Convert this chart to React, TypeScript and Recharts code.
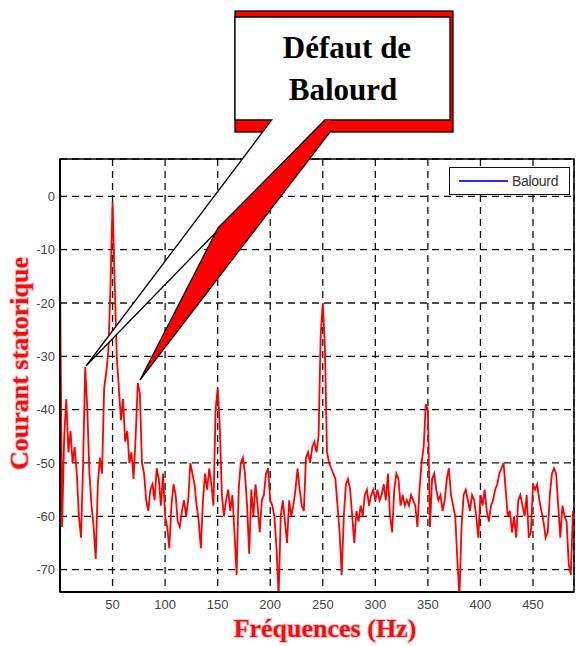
import React from "react";
import {
  LineChart,
  Line,
  XAxis,
  YAxis,
  CartesianGrid,
  Legend,
  ReferenceArea,
} from "recharts";

// stator current spectrum, one sample every 2 Hz (dB)
const FREQ_STEP = 2;

const spectrum0to98 = [
  -14, -62, -45, -38, -48, -44, -50, -47, -52, -60,
  -64, -50, -32, -40, -52, -58, -62, -68, -54, -49,
  -52, -36, -33, -29, -17, -1, -16, -30, -36, -42,
  -38, -46, -44, -50, -48, -53, -45, -35, -37, -50,
  -52, -57, -59, -55, -54, -57, -51, -53, -58, -52,
];
const spectrum100to198 = [
  -60, -62, -66, -58, -54, -56, -61, -62, -59, -57,
  -60, -57, -50, -52, -54, -58, -61, -66, -57, -52,
  -55, -51, -54, -58, -40, -36, -43, -56, -60, -57,
  -55, -59, -56, -63, -71, -55, -50, -49, -52, -58,
  -67, -55, -60, -54, -58, -63, -57, -56, -52, -51,
];
const spectrum200to298 = [
  -57, -58, -60, -66, -75, -60, -57, -61, -65, -57,
  -60, -58, -55, -51, -55, -58, -59, -49, -48, -50,
  -47, -46, -48, -45, -26, -20, -28, -48, -50, -51,
  -52, -53, -58, -63, -71, -60, -54, -53, -55, -60,
  -65, -59, -61, -58, -60, -56, -55, -58, -56, -55,
];
const spectrum300to398 = [
  -57, -55, -57, -56, -54, -57, -52, -60, -63, -55,
  -52, -53, -58, -56, -58, -57, -58, -56, -57, -58,
  -62, -55, -50, -47, -39, -40, -62, -53, -52, -55,
  -57, -56, -59, -57, -53, -51, -56, -58, -60, -68,
  -75, -62, -56, -55, -57, -59, -56, -57, -60, -64,
];
const spectrum400to488 = [
  -56, -58, -55, -59, -61, -58, -57, -55, -54, -52,
  -51, -50, -55, -60, -59, -63, -60, -64, -57, -56,
  -58, -60, -56, -64, -63, -54, -55, -54, -57, -59,
  -61, -64, -63, -56, -52, -51, -52, -58, -64, -58,
  -60, -61, -69, -71, -59,
];

const xTicks = [50, 100, 150, 200, 250, 300, 350, 400, 450];
const yTicks = [0, -10, -20, -30, -40, -50, -60, -70];
const xDomain = [0, 489];
const yDomain = [-74.2, 7];

const data = [
  ...spectrum0to98,
  ...spectrum100to198,
  ...spectrum200to298,
  ...spectrum300to398,
  ...spectrum400to488,
].map((v, i) => ({ f: i * FREQ_STEP, balourd: v }));

const titleStyle = {
  fill: "#f00f0f",
  stroke: "#ffc4c4",
  strokeWidth: 2,
  paintOrder: "stroke",
  fontFamily: "'Liberation Serif', 'Times New Roman', serif",
  fontWeight: 700,
  fontSize: 26,
} as React.CSSProperties;

function XTitle(props: any) {
  const vb = props.viewBox || { x: 60, y: 592, width: 514, height: 30 };
  return (
    <text
      x={vb.x + vb.width / 2 + 8}
      y={vb.y + 45}
      textAnchor="middle"
      style={titleStyle}
    >
      Fréquences (Hz)
    </text>
  );
}

function YTitle(props: any) {
  const vb = props.viewBox || { x: 0, y: 159, width: 60, height: 433 };
  const cx = vb.x + 28;
  const cy = vb.y + vb.height / 2 - 12;
  return (
    <text
      x={cx}
      y={cy}
      transform={`rotate(-90 ${cx} ${cy})`}
      textAnchor="middle"
      style={titleStyle}
    >
      Courant statorique
    </text>
  );
}

function BalourdLegend() {
  return (
    <div
      style={{
        width: 121,
        height: 28,
        border: "1.5px solid #111",
        background: "#fff",
        display: "flex",
        alignItems: "center",
        boxSizing: "border-box",
      }}
    >
      <svg width={62} height={20}>
        <line x1={9} y1={10} x2={58} y2={10} stroke="#2a2aff" strokeWidth={2} />
      </svg>
      <span
        style={{
          fontFamily: "'Liberation Sans', Arial, sans-serif",
          fontSize: 14,
          color: "#333",
          letterSpacing: -0.3,
        }}
      >
        Balourd
      </span>
    </div>
  );
}

// the "Défaut de Balourd" callout drawn over the plot
function Callout() {
  return (
    <svg
      width={576}
      height={646}
      style={{ position: "absolute", left: 0, top: 0, pointerEvents: "none" }}
    >
      <rect x={235} y={11} width={218} height={121} fill="#ff0000" stroke="#000" strokeWidth={1.3} />
      <polygon
        points="235,17 450,17 450,120 325,120 86,366 271.7,120 235,120"
        fill="#fff"
        stroke="#000"
        strokeWidth={1.3}
        strokeLinejoin="miter"
      />
      <polygon points="325,120 331,120 330,132 140,380 218,228" fill="#ff0000" />
      <polyline
        points="325,120 218,228 140,380 330,132"
        fill="none"
        stroke="#000"
        strokeWidth={1.3}
      />
      <g
        fontFamily="'Liberation Serif', 'Times New Roman', serif"
        fontWeight={700}
        fontSize={31}
        fill="#000"
        textAnchor="middle"
      >
        <text x={347} y={58}>Défaut de</text>
        <text x={343} y={100}>Balourd</text>
      </g>
    </svg>
  );
}

export default function App() {
  return (
    <div
      style={{
        position: "absolute",
        left: 0,
        top: 0,
        width: 576,
        height: 646,
        background: "#fff",
      }}
    >
      <LineChart
        width={576}
        height={646}
        data={data}
        margin={{ top: 159, right: 2, bottom: 24, left: 0 }}
      >
        <CartesianGrid
          stroke="#111"
          strokeWidth={1.3}
          strokeDasharray="7 5"
        />
        <XAxis
          dataKey="f"
          type="number"
          domain={xDomain}
          ticks={xTicks}
          allowDataOverflow
          height={30}
          axisLine={{ stroke: "#000", strokeWidth: 2 }}
          tickLine={false}
          tickSize={4}
          tickMargin={4}
          tick={{ fill: "#444", fontSize: 13, fontFamily: "'Liberation Sans', Arial, sans-serif" }}
          label={<XTitle />}
        />
        <YAxis
          type="number"
          domain={yDomain}
          ticks={yTicks}
          allowDataOverflow
          width={60}
          axisLine={{ stroke: "#000", strokeWidth: 2 }}
          tickLine={false}
          tickSize={3}
          tickMargin={2}
          tick={{ fill: "#444", fontSize: 13, fontFamily: "'Liberation Sans', Arial, sans-serif" }}
          label={<YTitle />}
        />
        <ReferenceArea
          x1={xDomain[0]}
          x2={xDomain[1]}
          y1={yDomain[0]}
          y2={yDomain[1]}
          fill="none"
          stroke="#000"
          strokeWidth={1.5}
          ifOverflow="visible"
        />
        <Line
          type="linear"
          dataKey="balourd"
          name="Balourd"
          stroke="#ff0000"
          strokeWidth={1.8}
          dot={false}
          isAnimationActive={false}
        />
        <Legend
          layout="vertical"
          align="center"
          verticalAlign="middle"
          content={<BalourdLegend />}
          wrapperStyle={{ position: "absolute", left: 449, top: 167, width: 121, height: 28 }}
        />
      </LineChart>
      <Callout />
    </div>
  );
}
